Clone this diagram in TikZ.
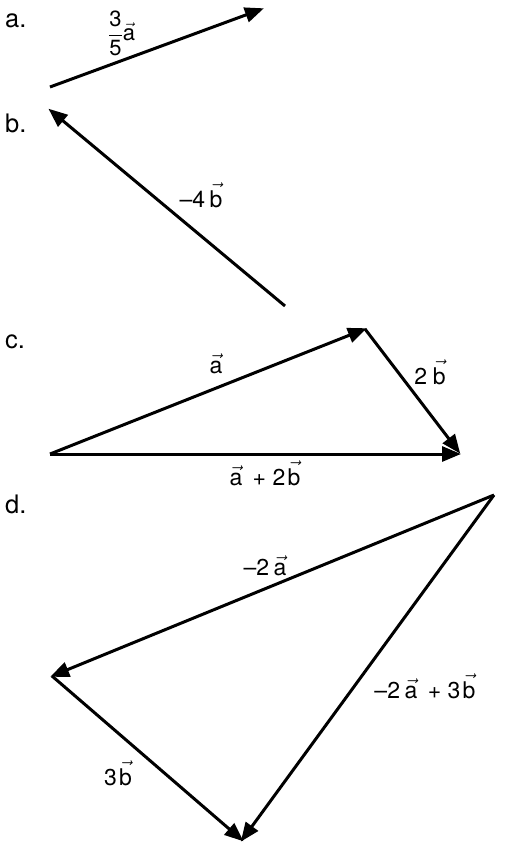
\documentclass[tikz,border=0pt]{standalone}
\usepackage{fontspec}
\setmainfont{TeX Gyre Heros}
\usetikzlibrary{arrows.meta}
\newcommand{\va}{$\vec{\mbox{a}}$}
\newcommand{\vb}{$\vec{\mbox{b}}$}
\tikzset{
  vec/.style={line width=3pt, -{Triangle[length=19pt,width=15pt]}, shorten >=-2pt},
  part/.style={anchor=base west, inner sep=0pt, font=\fontsize{25.5}{30}\selectfont},
  lab/.style={anchor=base, inner sep=0pt, font=\fontsize{23}{27}\selectfont}
}
\begin{document}
\begin{tikzpicture}[x=1pt, y=-1pt]
\useasboundingbox (0,0) rectangle (504,846);

% part labels
\node[part] (pa) at (5, 27) {a.};
\node[part] (pb) at (5, 132) {b.};
\node[part] (pc) at (5, 348) {c.};
\node[part] (pd) at (5, 513) {d.};

% a.
\coordinate (a0) at (50, 87);
\coordinate (a1) at (262, 9);
\draw (a0) edge[vec] (a1);
\node[anchor=west, inner sep=0pt, font=\fontsize{22}{26}\selectfont] (la) at (108, 33)
  {$\displaystyle\frac{\mbox{3}\rule[-3pt]{0pt}{3pt}}{\rule{0pt}{19pt}\mbox{5}}$\va};

% b.
\coordinate (b0) at (285, 306);
\coordinate (b1) at (50, 110);
\draw (b0) edge[vec] (b1);
\node[lab] (lb) at (201, 207) {–4\hspace{0.2em}\vb};

% c.
\coordinate (c0) at (50, 454);
\coordinate (c1) at (365, 329);
\coordinate (c2) at (459, 452);
\draw (c0) edge[vec] (c1);
\draw (c1) edge[vec] (c2);
\draw (c0) edge[vec] (c2 |- c0);
\node[lab] (lca) at (216, 373) {\va};
\node[lab] (lcb) at (430, 384) {2\hspace{0.25em}\vb};
\node[lab] (lcs) at (265, 485) {\va\hspace{0.45em}+ 2\hspace{0.1em}\vb};

% d.
\coordinate (d0) at (494, 495);
\coordinate (d1) at (52, 676);
\coordinate (d2) at (242, 840);
\draw (d0) edge[vec] (d1);
\draw (d1) edge[vec] (d2);
\draw (d0) edge[vec] (d2);
\node[lab] (lda) at (265, 575) {–2\hspace{0.2em}\va};
\node[lab] (ldb) at (118, 785) {3\hspace{0.1em}\vb};
\node[lab] (lds) at (425, 698) {–2\hspace{0.2em}\va\hspace{0.45em}+ 3\hspace{0.1em}\vb};
\end{tikzpicture}
\end{document}
